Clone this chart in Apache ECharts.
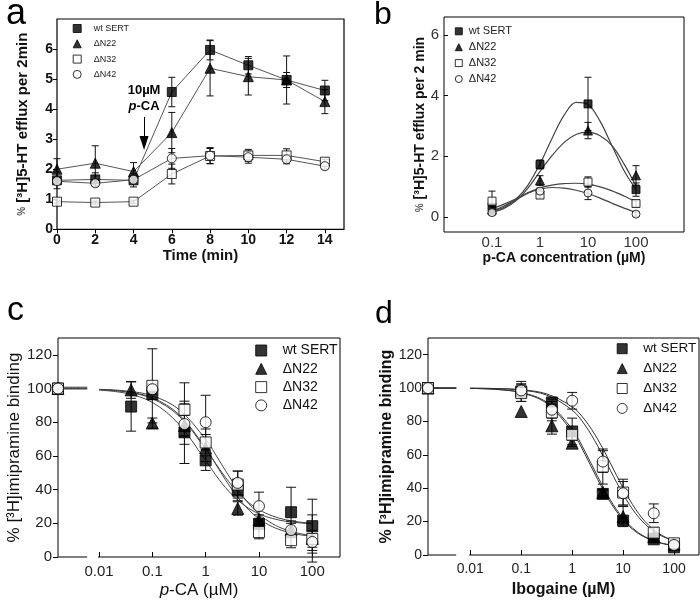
<!DOCTYPE html>
<html><head><meta charset="utf-8">
<script src="https://cdn.jsdelivr.net/npm/echarts@6/dist/echarts.min.js"></script>
<style>html,body{margin:0;padding:0;background:#fff}#c{width:700px;height:600px}</style>
</head><body><div id="c"></div>
<script>
// ---------- data ----------
const seriesNames = ['wt SERT', 'ΔN22', 'ΔN32', 'ΔN42'];

// Panel a: time course (min) of [3H]5-HT efflux
const timeMin = [0, 2, 4, 6, 8, 10, 12, 14];
const timeTicks = [0, 2, 4, 6, 8, 10, 12, 14];
const effluxTicksA = [0, 1, 2, 3, 4, 5, 6];
const aWt = [1.63, 1.66, 1.63, 4.57, 5.97, 5.46, 4.97, 4.62];
const aWtErr = [0.28, 0.22, 0.22, 0.49, 0.33, 0.29, 0.8, 0.34];
const aN22 = [2.0, 2.2, 1.92, 3.22, 5.36, 5.08, 4.97, 4.25];
const aN22Err = [0.35, 0.58, 0.3, 0.67, 0.92, 0.61, 0.25, 0.4];
const aN32 = [0.92, 0.89, 0.92, 1.84, 2.44, 2.46, 2.46, 2.25];
const aN32Err = [0.05, 0.05, 0.05, 0.33, 0.25, 0.2, 0.22, 0.08];
const aN42 = [1.6, 1.53, 1.65, 2.36, 2.45, 2.4, 2.33, 2.1];
const aN42Err = [0.1, 0.1, 0.08, 0.33, 0.27, 0.2, 0.15, 0.1];

// Panel b: efflux vs p-CA concentration (µM)
const bConc = [0.1, 1, 10, 100];
const bConcTicks = [0.1, 1, 10, 100];
const effluxTicksB = [0, 2, 4, 6];
const bWt = [0.31, 1.73, 3.73, 0.9];
const bWtErr = [0.12, 0.15, 0.88, 0.22];
const bN22 = [0.24, 1.2, 2.85, 1.37];
const bN22Err = [0.1, 0.16, 0.27, 0.32];
const bN32 = [0.52, 0.72, 1.15, 0.44];
const bN32Err = [0.33, 0.1, 0.17, 0.1];
const bN42 = [0.14, 0.85, 0.79, 0.09];
const bN42Err = [0.08, 0.1, 0.22, 0.07];
// fitted curves
const bCurveX = [0.1, 0.178, 0.316, 0.562, 1, 1.78, 3.16, 5.62, 10, 17.8, 31.6, 56.2, 100];
const bCurveWt = [0.2, 0.32, 0.58, 1.05, 1.75, 2.59, 3.35, 3.78, 3.71, 3.16, 2.35, 1.53, 0.9];
const bCurveN22 = [0.15, 0.28, 0.53, 0.95, 1.5, 2.02, 2.45, 2.72, 2.8, 2.68, 2.35, 1.75, 1.02];
const bCurveN32 = [0.27, 0.42, 0.6, 0.8, 0.96, 1.05, 1.1, 1.11, 1.08, 0.99, 0.86, 0.69, 0.5];
const bCurveN42 = [0.2, 0.36, 0.57, 0.78, 0.92, 0.97, 0.95, 0.88, 0.77, 0.62, 0.45, 0.29, 0.15];

// Panel c: [3H]imipramine binding vs p-CA (µM); first point = control (no drug) on broken axis
const cCtrlPos = 0.0017;
const cBreakStart = 0.006;
const cConc = [cCtrlPos, 0.04, 0.1, 0.4, 1, 4, 10, 40, 100];
const concTicks = [0.01, 0.1, 1, 10, 100];
const bindTicks = [0, 20, 40, 60, 80, 100, 120];
const cWt = [100, 89.3, 96.6, 74, 57.4, 39.4, 19.7, 26.6, 18.3];
const cWtErr = [0, 14.6, 3, 18.5, 6, 6, 3, 14.8, 16];
const cN22 = [100, 99.2, 79.5, 78, 64.7, 28.8, 22, 16.4, 11];
const cN22Err = [0, 5, 3, 6, 8, 4, 3, 5, 14];
const cN32 = [100, null, 101.6, 87.4, 68, 43, 14.8, 10, 10.8];
const cN32Err = [0, 0, 22, 16, 8, 8, 4, 4.5, 5];
const cN42 = [100, null, 99.6, 78.9, 80, 44, 30.2, 16, 8.9];
const cN42Err = [0, 0, 3, 12, 16, 7, 8.3, 4, 5];
const cCurveX = [cCtrlPos, cBreakStart, 0.008, 0.01, 0.0316, 0.1, 0.316, 1, 1.78, 3.16, 5.62, 10, 17.8, 31.6, 56.2, 100];
const cCurveWt = [100.3, 100.3, '-', 99.1, 97.2, 91.8, 78.8, 57.2, 46.0, 36.8, 30.1, 25.6, 22.9, 21.2, 20.3, 19.7];
const cCurveN22 = [99.7, 99.7, '-', 99.4, 98.0, 94.0, 83.7, 64.1, 52.6, 42.1, 33.8, 28.1, 24.4, 22.1, 20.8, 20.0];
const cCurveN32 = [100.8, 100.8, '-', 99.4, 98.2, 94.5, 84.6, 64.6, 51.9, 39.8, 29.9, 22.7, 18.0, 15.1, 13.3, 12.3];
const cCurveN42 = [100, 100, '-', 99.5, 98.6, 95.7, 87.6, 69.8, 57.5, 44.9, 33.9, 25.5, 19.8, 16.2, 14.0, 12.7];

// Panel d: [3H]imipramine binding vs ibogaine (µM)
const dCtrlPos = 0.00148;
const dBreakStart = 0.0053;
const dConc = [dCtrlPos, 0.1, 0.4, 1, 4, 10, 40, 100];
const dWt = [100, 98, 91.4, 74, 36.6, 20.6, 9.4, 4.6];
const dWtErr = [0, 6, 2, 8, 2, 2, 2, 2];
const dN22 = [100, 86, 77.4, 67, 37.4, 23, 11, 6.5];
const dN22Err = [0, 0, 5, 2, 2, 6, 2, 2];
const dN32 = [100, 97, 85.4, 72, 53, 37.4, 13.4, 7];
const dN32Err = [0, 5, 5, 3, 10.5, 8, 3, 2];
const dN42 = [100, 98.6, 87, 92.4, 56, 37, 25, 6];
const dN42Err = [0, 4, 5, 5, 6.5, 7, 5.6, 2];
const dCurveX = [dCtrlPos, dBreakStart, 0.007, 0.01, 0.0316, 0.1, 0.316, 1, 1.78, 3.16, 5.62, 10, 17.8, 31.6, 56.2, 100];
const dCurveWt = [100, 100, '-', 99.8, 99.3, 97.4, 91.5, 75.4, 62.2, 47.1, 33.0, 22.0, 14.5, 9.9, 7.2, 5.7];
const dCurveN22 = [100, 100, '-', 99.8, 99.2, 97.2, 90.8, 73.8, 60.4, 45.3, 31.6, 21.0, 13.9, 9.6, 7.0, 5.6];
const dCurveN32 = [100, 100, '-', 99.9, 99.7, 98.8, 95.8, 86.8, 77.9, 65.4, 50.7, 36.4, 24.7, 16.6, 11.5, 8.6];
const dCurveN42 = [100, 100, '-', 99.9, 99.7, 99.0, 96.5, 88.8, 80.9, 69.4, 55.1, 40.1, 27.2, 17.9, 12.0, 8.4];

// ---------- chart ----------
const FONT = '"Liberation Sans", Arial, Helvetica, sans-serif';
const chart = echarts.init(document.getElementById('c'));

const markerStyles = [
  { symbol: 'rect', itemStyle: { color: '#000', borderColor: '#000', borderWidth: 1 } },
  { symbol: 'triangle', itemStyle: { color: '#000', borderColor: '#000', borderWidth: 1 } },
  { symbol: 'rect', itemStyle: { color: '#fff', borderColor: '#000', borderWidth: 1 } },
  { symbol: 'circle', itemStyle: { color: '#fff', borderColor: '#000', borderWidth: 1 } }
];
const legendIcons = ['rect', 'triangle', 'rect', 'circle'];

function errRenderer(capW) {
  return function (params, api) {
    const x = api.value(0), lo = api.value(1), hi = api.value(2);
    const p1 = api.coord([x, hi]), p2 = api.coord([x, lo]);
    const st = { stroke: '#111', lineWidth: 1, fill: null };
    return {
      type: 'group', children: [
        { type: 'line', shape: { x1: p1[0], y1: p1[1], x2: p2[0], y2: p2[1] }, style: st },
        { type: 'line', shape: { x1: p1[0] - capW, y1: p1[1], x2: p1[0] + capW, y2: p1[1] }, style: st },
        { type: 'line', shape: { x1: p2[0] - capW, y1: p2[1], x2: p2[0] + capW, y2: p2[1] }, style: st }
      ]
    };
  };
}

const series = [];
function addPanel(gi, xs, ysList, errList, opt) {
  ysList.forEach((ys, k) => {
    const pts = [], errs = [];
    xs.forEach((x, i) => {
      if (ys[i] == null) return;
      pts.push([x, ys[i]]);
      const e = errList[k][i];
      if (e) errs.push([x, ys[i] - e, ys[i] + e]);
    });
    series.push({
      type: 'custom', name: seriesNames[k] + ' err ' + gi, xAxisIndex: gi, yAxisIndex: gi,
      renderItem: errRenderer(opt.capW), data: errs, encode: { x: 0, y: [1, 2] },
      clip: false, silent: true, z: 3
    });
    const s = {
      type: 'scatter', name: seriesNames[k], xAxisIndex: gi, yAxisIndex: gi,
      symbol: markerStyles[k].symbol, symbolSize: k === 1 ? opt.size + 1 : opt.size,
      itemStyle: markerStyles[k].itemStyle, data: pts, clip: false, silent: true, z: 5
    };
    series.push(s);
  });
}
function addCurves(gi, cx, curves, opt) {
  curves.forEach((cy, k) => {
    series.push({
      type: 'line', name: seriesNames[k] + ' fit ' + gi, xAxisIndex: gi, yAxisIndex: gi,
      data: cx.map((x, i) => [x, cy[i]]), showSymbol: false, symbol: 'none',
      smooth: opt.smooth ? 0.35 : false, connectNulls: false, clip: false, silent: true,
      lineStyle: { color: opt.color || '#444', width: opt.width || 1 }, z: 2
    });
  });
}

// panel a: connecting lines
addCurves(0, timeMin, [aWt, aN22, aN32, aN42], { smooth: false, color: '#555', width: 1 });
addPanel(0, timeMin, [aWt, aN22, aN32, aN42], [aWtErr, aN22Err, aN32Err, aN42Err], { capW: 3.5, size: 9 });
// panel b
addCurves(1, bCurveX, [bCurveWt, bCurveN22, bCurveN32, bCurveN42], { smooth: true, color: '#444', width: 1.2 });
addPanel(1, bConc, [bWt, bN22, bN32, bN42], [bWtErr, bN22Err, bN32Err, bN42Err], { capW: 3.5, size: 8 });
// panel c
addCurves(2, cCurveX, [cCurveWt, cCurveN22, cCurveN32, cCurveN42], { smooth: true, color: '#444', width: 1 });
addPanel(2, cConc, [cWt, cN22, cN32, cN42], [cWtErr, cN22Err, cN32Err, cN42Err], { capW: 5, size: 11 });
// panel d
addCurves(3, dCurveX, [dCurveWt, dCurveN22, dCurveN32, dCurveN42], { smooth: true, color: '#333', width: 1 });
addPanel(3, dConc, [dWt, dN22, dN32, dN42], [dWtErr, dN22Err, dN32Err, dN42Err], { capW: 5, size: 11 });

// annotation arrow in panel a
const aWtScatter = series.find(s => s.type === 'scatter' && s.xAxisIndex === 0 && s.name === 'wt SERT');
aWtScatter.markLine = {
  silent: true, symbol: ['none', 'triangle'], symbolSize: [9, 14],
  lineStyle: { color: '#000', width: 1, type: 'solid' },
  label: {
    show: true, position: 'start', distance: 3, align: 'center',
    formatter: '{b|10µM}\n{bi|p}{b|-CA}',
    rich: {
      b: { fontFamily: FONT, fontWeight: 'bold', fontSize: 13, color: '#000', lineHeight: 16 },
      bi: { fontFamily: FONT, fontWeight: 'bold', fontStyle: 'italic', fontSize: 13, color: '#000', lineHeight: 16 }
    }
  },
  data: [[{ coord: [4.55, 3.74] }, { coord: [4.55, 2.87] }]]
};

function legendFor(left, top, iw, ih, gap, fs, pad, color) {
  return {
    orient: 'vertical', left: left, top: top, itemWidth: iw, itemHeight: ih, itemGap: gap,
    padding: 0, selectedMode: false,
    textStyle: { fontFamily: FONT, fontSize: fs, color: color, padding: [0, 0, 0, pad], lineHeight: ih },
    data: seriesNames.map((n, i) => ({
      name: n, icon: legendIcons[i],
      itemStyle: markerStyles[i].itemStyle
    }))
  };
}

const boldLab = { fontFamily: FONT, fontWeight: 'bold', fontSize: 14, color: '#111' };

const option = {
  backgroundColor: '#fff',
  animation: false,
  title: [
    { text: 'a', left: 1, top: -9, textStyle: { fontFamily: FONT, fontSize: 36, fontWeight: 'normal', color: '#000' } },
    { text: 'b', left: 369, top: -6, textStyle: { fontFamily: FONT, fontSize: 32, fontWeight: 'normal', color: '#000' } },
    { text: 'c', left: 2, top: 289, textStyle: { fontFamily: FONT, fontSize: 34, fontWeight: 'normal', color: '#000' } },
    { text: 'd', left: 370, top: 293, textStyle: { fontFamily: FONT, fontSize: 32, fontWeight: 'normal', color: '#000' } }
  ],
  legend: [
    legendFor(72.7, 24, 8, 8, 6.3, 9, 7.5, '#222'),
    legendFor(454.8, 25.8, 7, 7, 4.9, 11, 1.5, '#222'),
    legendFor(255.2, 343.5, 11, 11, 4.3, 14, 11, '#111'),
    legendFor(616.7, 341.7, 10, 10, 5.9, 13.5, 11, '#111')
  ],
  grid: [
    { left: 57, top: 19, right: 356, bottom: 370.7, show: true, borderColor: '#000', borderWidth: 1.2, backgroundColor: 'transparent' },
    { left: 444, top: 17, right: 16, bottom: 368, show: true, borderColor: '#000', borderWidth: 1, backgroundColor: 'transparent' },
    { left: 58, top: 338, right: 360, bottom: 43, show: true, borderColor: '#000', borderWidth: 1, backgroundColor: 'transparent' },
    { left: 428, top: 338, right: 1, bottom: 45, show: true, borderColor: '#000', borderWidth: 1, backgroundColor: 'transparent' }
  ],
  xAxis: [
    {
      gridIndex: 0, type: 'value', min: 0, max: 15,
      name: 'Time (min)', nameLocation: 'middle', nameGap: 18,
      nameTextStyle: { fontFamily: FONT, fontWeight: 'bold', fontSize: 15, color: '#111' },
      axisLine: { show: false }, splitLine: { show: false },
      axisTick: { show: true, inside: false, length: 4, lineStyle: { color: '#000' }, customValues: timeTicks },
      axisLabel: Object.assign({ margin: 4, customValues: timeTicks }, boldLab)
    },
    {
      gridIndex: 1, type: 'log', logBase: 10, min: 0.01, max: 1000,
      name: 'p-CA concentration (µM)', nameLocation: 'middle', nameGap: 15,
      nameTextStyle: { fontFamily: FONT, fontWeight: 'bold', fontSize: 14, color: '#111' },
      axisLine: { show: false }, splitLine: { show: false }, minorTick: { show: false },
      axisTick: { show: false },
      axisLabel: { margin: 3, customValues: bConcTicks, fontFamily: FONT, fontSize: 15, color: '#333',
        formatter: v => String(+v.toPrecision(3)) }
    },
    {
      gridIndex: 2, type: 'log', logBase: 10, min: cCtrlPos, max: 331,
      name: '{i|p}-CA (µM)', nameLocation: 'middle', nameGap: 25,
      nameTextStyle: { fontFamily: FONT, fontSize: 17, color: '#111',
        rich: { i: { fontFamily: FONT, fontSize: 17, fontStyle: 'italic', color: '#111' } } },
      axisLine: { show: false }, splitLine: { show: false }, minorTick: { show: false },
      axisTick: { show: true, inside: true, length: 5, lineStyle: { color: '#000' }, customValues: concTicks },
      axisLabel: { margin: 7, customValues: concTicks, fontFamily: FONT, fontSize: 15, color: '#222',
        formatter: v => String(+v.toPrecision(3)) }
    },
    {
      gridIndex: 3, type: 'log', logBase: 10, min: dCtrlPos, max: 309,
      name: 'Ibogaine (µM)', nameLocation: 'middle', nameGap: 27,
      nameTextStyle: { fontFamily: FONT, fontWeight: 'bold', fontSize: 16, color: '#111' },
      axisLine: { show: false }, splitLine: { show: false }, minorTick: { show: false },
      axisTick: { show: true, inside: true, length: 5, lineStyle: { color: '#000' }, customValues: concTicks },
      axisLabel: { margin: 7, customValues: concTicks, fontFamily: FONT, fontSize: 14, color: '#222',
        formatter: v => String(+v.toPrecision(3)) }
    }
  ],
  yAxis: [
    {
      gridIndex: 0, type: 'value', min: 0, max: 7,
      name: '{s|%} [³H]5-HT efflux per 2min', nameLocation: 'middle', nameGap: 27,
      nameTextStyle: { fontFamily: FONT, fontWeight: 'bold', fontSize: 15, color: '#111',
        rich: { s: { fontFamily: FONT, fontSize: 10, color: '#555' } } },
      axisLine: { show: false }, splitLine: { show: false },
      axisTick: { show: true, inside: false, length: 4, lineStyle: { color: '#000' }, customValues: effluxTicksA },
      axisLabel: Object.assign({ margin: 4, customValues: effluxTicksA }, boldLab)
    },
    {
      gridIndex: 1, type: 'value', min: -0.5, max: 6.6,
      name: '{s|%} [³H]5-HT efflux per 2 min', nameLocation: 'middle', nameGap: 15,
      nameTextStyle: { fontFamily: FONT, fontWeight: 'bold', fontSize: 14, color: '#111',
        rich: { s: { fontFamily: FONT, fontSize: 10, color: '#555' } } },
      axisLine: { show: false }, splitLine: { show: false },
      axisTick: { show: true, inside: true, length: 4, lineStyle: { color: '#000' }, customValues: effluxTicksB },
      axisLabel: { margin: 5, customValues: effluxTicksB, fontFamily: FONT, fontSize: 15, color: '#333' }
    },
    {
      gridIndex: 2, type: 'value', min: 0, max: 130,
      name: '% [³H]imipramine binding', nameLocation: 'middle', nameGap: 25,
      nameTextStyle: { fontFamily: FONT, fontSize: 17, color: '#111' },
      axisLine: { show: false }, splitLine: { show: false },
      axisTick: { show: true, inside: false, length: 5, lineStyle: { color: '#000' }, customValues: bindTicks },
      axisLabel: { margin: 6, customValues: bindTicks, fontFamily: FONT, fontSize: 15, color: '#222' }
    },
    {
      gridIndex: 3, type: 'value', min: 0, max: 130,
      name: '% [³H]imipramine binding', nameLocation: 'middle', nameGap: 26,
      nameTextStyle: { fontFamily: FONT, fontWeight: 'bold', fontSize: 16, color: '#111' },
      axisLine: { show: false }, splitLine: { show: false },
      axisTick: { show: true, inside: false, length: 5, lineStyle: { color: '#000' }, customValues: bindTicks },
      axisLabel: { margin: 6, customValues: bindTicks, fontFamily: FONT, fontSize: 14, color: '#222' }
    }
  ],
  series: series
};
chart.setOption(option);

// axis breaks on the bottom axes of panels c and d (computed through the axis scales)
function breakRect(gi, xStart, xEnd) {
  const p1 = chart.convertToPixel({ gridIndex: gi }, [xStart, 0]);
  const p2 = chart.convertToPixel({ gridIndex: gi }, [xEnd, 0]);
  return { type: 'rect', z: 100, silent: true,
    shape: { x: p1[0], y: p1[1] - 2, width: p2[0] - p1[0] - 1, height: 4 },
    style: { fill: '#fff' } };
}
chart.setOption({ graphic: [breakRect(2, cBreakStart, 0.01), breakRect(3, dBreakStart, 0.01)] });
</script>
</body></html>
